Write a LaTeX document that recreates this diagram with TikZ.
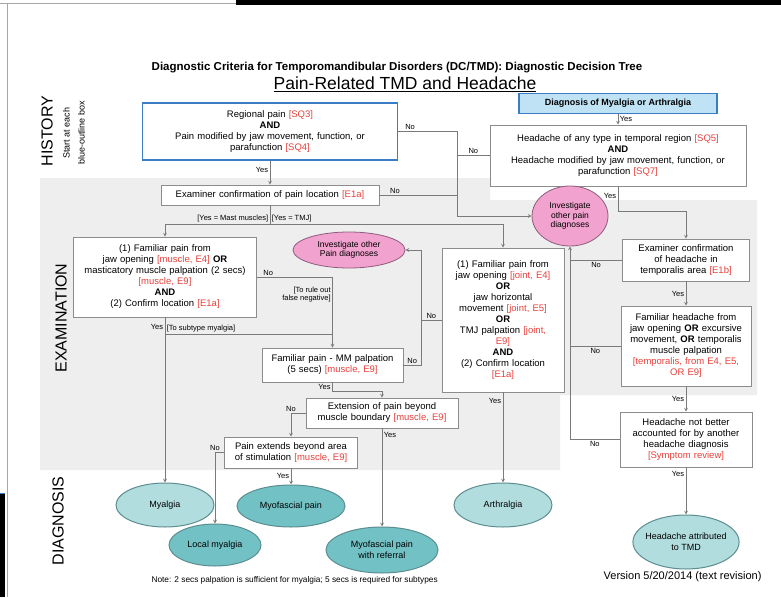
\documentclass[tikz,border=0pt]{standalone}
\usepackage{fontspec}
\setmainfont{Liberation Sans}
\usetikzlibrary{arrows, shapes.geometric, positioning}

\definecolor{refred}{HTML}{E8413C}
\definecolor{bluebd}{HTML}{3B7DC4}
\definecolor{bluefill}{HTML}{BFE2F4}
\definecolor{pinkfill}{HTML}{F2A2CE}
\definecolor{pinkbd}{HTML}{8E5C7C}
\definecolor{tealfill}{HTML}{B2DDDF}
\definecolor{tealdark}{HTML}{72C2C5}
\definecolor{tealbd}{HTML}{5C8D90}
\definecolor{boxbd}{HTML}{8C8C8C}
\definecolor{linegray}{HTML}{7A7A7A}
\definecolor{bandgray}{HTML}{EEEEEE}

\newcommand{\rtag}[1]{{\color{refred}[#1]}}

\begin{document}
\begin{tikzpicture}[x=1pt, y=-1pt, ->, >=stealth,
	box/.style={draw=boxbd, fill=white, line width=0.7pt, align=center, inner xsep=0pt, inner ysep=1pt, font=\fontsize{9.5}{11}\selectfont},
	sz/.style 2 args={text width=#1pt, minimum height=#2pt},
	es/.style 2 args={minimum width=#1pt, minimum height=#2pt},
	startbox/.style={box, draw=bluebd, line width=1.8pt},
	dxbox/.style={draw=bluebd, fill=bluefill, line width=1.4pt, inner sep=0pt, font=\fontsize{9}{10}\selectfont\bfseries},
	other/.style={ellipse, draw=pinkbd, fill=pinkfill, line width=0.8pt, align=center, inner sep=-3pt, font=\fontsize{8.5}{9.5}\selectfont},
	dx/.style={ellipse, draw=tealbd, fill=tealfill, line width=1pt, align=center, inner sep=-3pt, font=\fontsize{9}{10.5}\selectfont},
	dxdark/.style={dx, fill=tealdark},
	link/.style={draw=linegray, line width=0.7pt},
	lbl/.style={font=\fontsize{7.5}{8}\selectfont, inner sep=1.5pt},
	side/.style={rotate=90, font=\fontsize{16}{16}\selectfont}]

	\fill[white] (0,0) rectangle (781,597);
	\useasboundingbox (0,0) rectangle (781,597);
	\fill[black] (236,0) rectangle (781,5);
	\draw[-, gray!70, line width=1pt] (0,3) -- (236,3);
	\draw[-, gray!70, line width=1pt] (7,3) -- (7,597);
	\fill[black] (0,493) rectangle (5,597);
	\draw[-, bluebd, line width=1pt] (0,493) -- (5,493);

	\fill[bandgray] (40,178) -- (490,178) -- (490,200) -- (757,200) -- (757,395) -- (560,395) -- (560,470) -- (40,470) -- cycle;

	\node[font=\fontsize{11.5}{13}\selectfont\bfseries] (ttl) at (397,68) {Diagnostic Criteria for Temporomandibular Disorders (DC/TMD): Diagnostic Decision Tree};
	\node[font=\fontsize{17.5}{19}\selectfont] (ttl2) at (405,84) {\underline{Pain-Related TMD and Headache}};

	\node[side] (hist) at (47,131) {HISTORY};
	\node[rotate=90, align=center, font=\fontsize{9}{15}\selectfont] (hint) at (74,133) {Start at each\\blue-outline box};
	\node[side] (exlab) at (61,318) {EXAMINATION};
	\node[side] (dxlab) at (58,521) {DIAGNOSIS};

	\node[startbox, sz={255}{57}] (reg) at (270,131.5) {Regional pain \rtag{SQ3}\\\textbf{AND}\\Pain modified by jaw movement, function, or\\parafunction \rtag{SQ4}};
	\node[dxbox, es={198}{20}] (diag) at (618,103.5) {Diagnosis of Myalgia or Arthralgia};
	\node[box, sz={256}{61}] (head) at (618,155.5) {Headache of any type in temporal region \rtag{SQ5}\\\textbf{AND}\\Headache modified by jaw movement, function, or\\parafunction \rtag{SQ7}};
	\node[box, sz={218}{20}] (exam) at (270,195) {Examiner confirmation of pain location \rtag{E1a}};
	\node[other, es={76}{60}] (oth2) at (570,216) {Investigate\\other pain\\diagnoses};

	\node[box, sz={183}{80}] (musc) at (165,277) {(1) Familiar pain from\\jaw opening \rtag{muscle, E4} \textbf{OR}\\masticatory muscle palpation (2 secs)\\\rtag{muscle, E9}\\\textbf{AND}\\(2) Confirm location \rtag{E1a}};
	\node[other, es={112}{36}] (oth1) at (349,250) {Investigate other\\Pain diagnoses};
	\node[box, sz={122}{144}] (joint) at (503,320) {(1) Familiar pain from\\jaw opening \rtag{joint, E4}\\\textbf{OR}\\jaw horizontal\\movement \rtag{joint, E5}\\\textbf{OR}\\TMJ palpation {\color{refred}[joint,}\\{\color{refred}E9]}\\\textbf{AND}\\(2) Confirm location\\\rtag{E1a}};
	\node[box, sz={127}{42}] (hexam) at (686,260) {Examiner confirmation\\of headache in\\temporalis area \rtag{E1b}};
	\node[box, sz={130}{80}] (fhead) at (686,346) {Familiar headache from\\jaw opening \textbf{OR} excursive\\movement, \textbf{OR} temporalis\\muscle palpation\\{\color{refred}[temporalis, from E4, E5,}\\{\color{refred}OR E9]}};
	\node[box, sz={132}{55}] (hnot) at (686,439.5) {Headache not better\\accounted for by another\\headache diagnosis\\\rtag{Symptom review}};
	\node[box, sz={141}{34}] (mm) at (332.5,365) {Familiar pain - MM palpation\\(5 secs) \rtag{muscle, E9}};
	\node[box, sz={152}{30}] (ext) at (382,413) {Extension of pain beyond\\muscle boundary \rtag{muscle, E9}};
	\node[box, sz={133}{31}] (ref) at (291,452.5) {Pain extends beyond area\\of stimulation \rtag{muscle, E9}};

	\node[dx, es={98}{44}] (myal) at (165,505) {Myalgia};
	\node[dxdark, es={92}{42}] (locm) at (215,545) {Local myalgia};
	\node[dxdark, es={108}{42}] (myof) at (291,506) {Myofascial pain};
	\node[dxdark, es={112}{46}] (myor) at (382,550) {Myofascial pain\\with referral};
	\node[dx, es={98}{44}] (arth) at (503,505) {Arthralgia};
	\node[dx, es={100}{54}] (htmd) at (686,542) {Headache attributed\\to TMD};

	\node[font=\fontsize{8.3}{9}\selectfont, anchor=west] (note) at (148,580) {Note: 2 secs palpation is sufficient for myalgia; 5 secs is required for subtypes};
	\node[font=\fontsize{11}{12}\selectfont, anchor=east] (ver) at (765,577) {Version 5/20/2014 (text revision)};

	\coordinate (trunk) at (457,0);
	\coordinate (back) at (421,0);
	\coordinate (split) at (270,224);
	\coordinate (sub) at (165,334);

	\draw[link] (reg) -- node[lbl, left, pos=.4] {Yes} (exam);
	\draw[link] (reg.east) -- node[lbl, above, pos=.2] {No} (reg.east -| trunk) |- (oth2);
	\draw[link, -] (head.west) -- node[lbl, above] {No} (head.west -| trunk);
	\draw[link, -] (exam.east) -- node[lbl, above, pos=.2] {No} (exam.east -| trunk);
	\draw[link] (diag) -- node[lbl, right] {Yes} (head);

	\draw[link, -] (exam) -- (split);
	\draw[link] (split) -| node[lbl, above left, pos=0] {[Yes = Mast muscles]} (musc);
	\draw[link] (split) -| node[lbl, above right, pos=0] {[Yes = TMJ]} (joint);

	\draw[link] (musc.east) -- node[lbl, above, pos=.15] {No} (musc.east -| mm) -- node[lbl, left, align=right, pos=.25] {[To rule out\\false negative]} (mm);
	\draw[link] (musc) -- node[lbl, left, pos=.06] {Yes} (myal);
	\draw[link, -] (sub) -- node[lbl, above right, pos=0] {[To subtype myalgia]} (sub -| mm);

	\draw[link] (mm.east) -- node[lbl, above] {No} (mm.east -| back) |- (oth1);
	\draw[link, -] (joint.west) -- node[lbl, above] {No} (joint.west -| back);
	\draw[link] (mm) -- node[lbl, left] {Yes} ++(0,26) -| (ext);
	\draw[link] (ext.west) -| node[lbl, above, pos=.5] {No} (ref);
	\draw[link] (ext) -- node[lbl, right, pos=.07] {Yes} (myor);
	\draw[link] (ref.west) -| node[lbl, above, pos=.5] {No} (locm);
	\draw[link] (ref) -- node[lbl, left] {Yes} (myof);
	\draw[link] (joint) -- node[lbl, left, pos=.1] {Yes} (arth);

	\draw[link] (head) -- node[lbl, left, pos=.4] {Yes} ++(0,56) -| (hexam);
	\draw[link] (hexam) -- node[lbl, left] {Yes} (fhead);
	\draw[link] (fhead) -- node[lbl, left] {Yes} (hnot);
	\draw[link] (hnot) -- node[lbl, left, pos=.15] {Yes} (htmd);
	\draw[link, -] (hexam.west) -- node[lbl, below] {No} (hexam.west -| oth2);
	\draw[link, -] (fhead.west) -- node[lbl, below] {No} (fhead.west -| oth2);
	\draw[link] (hnot.west) -- node[lbl, below] {No} (hnot.west -| oth2) -- (oth2);

\end{tikzpicture}
\end{document}
